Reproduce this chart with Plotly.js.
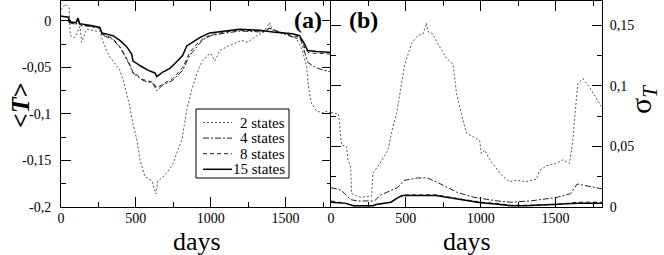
<!DOCTYPE html>
<html>
<head>
<meta charset="utf-8">
<script src="https://cdn.plot.ly/plotly-3.0.1.min.js"></script>
<style>html,body{margin:0;padding:0;background:#fff;}#chart{width:664px;height:255px;}</style>
</head>
<body>
<div id="chart"></div>
<script>
// ---- Panel (a): <T> vs days ----
const daysA2 = [0, 30, 55, 62, 93, 127, 138, 171, 230, 260, 271, 304, 327, 360, 393, 416, 438, 460, 480, 507, 527, 560, 607, 633, 647, 680, 713, 747, 773, 807, 840, 873, 907, 940, 980, 1000, 1027, 1060, 1107, 1147, 1207, 1247, 1307, 1347, 1393, 1413, 1460, 1507, 1573, 1613, 1640, 1653, 1673, 1707, 1750, 1780, 1810];
const tA2 = [0.012, 0.018, 0.014, -0.016, -0.018, -0.006, -0.023, -0.009, -0.011, -0.011, -0.018, -0.032, -0.039, -0.046, -0.053, -0.064, -0.078, -0.092, -0.11, -0.128, -0.149, -0.167, -0.172, -0.186, -0.172, -0.168, -0.162, -0.154, -0.142, -0.128, -0.096, -0.074, -0.057, -0.044, -0.037, -0.035, -0.043, -0.032, -0.028, -0.025, -0.021, -0.023, -0.016, -0.013, -0.002, -0.011, -0.012, -0.014, -0.019, -0.032, -0.05, -0.071, -0.089, -0.097, -0.099, -0.097, -0.1];

const daysA4 = [0, 50, 55, 100, 113, 125, 200, 260, 273, 347, 400, 440, 460, 480, 547, 613, 640, 680, 747, 813, 860, 907, 950, 1000, 1100, 1200, 1350, 1393, 1500, 1600, 1630, 1650, 1700, 1750, 1810];
const tA4 = [0.005, 0.004, -0.002, -0.004, 0.001, -0.005, -0.006, -0.008, -0.015, -0.02, -0.03, -0.042, -0.048, -0.056, -0.064, -0.067, -0.075, -0.069, -0.064, -0.053, -0.037, -0.028, -0.02, -0.016, -0.013, -0.011, -0.012, -0.008, -0.015, -0.02, -0.035, -0.045, -0.05, -0.053, -0.055];
const tA8 = [0.005, 0.004, -0.001, -0.003, 0.002, -0.004, -0.006, -0.008, -0.014, -0.019, -0.029, -0.04, -0.047, -0.055, -0.063, -0.066, -0.072, -0.068, -0.062, -0.05, -0.034, -0.025, -0.019, -0.015, -0.012, -0.01, -0.011, -0.008, -0.014, -0.018, -0.03, -0.034, -0.035, -0.035, -0.036];

const daysA15 = [0, 50, 55, 100, 113, 125, 200, 260, 273, 347, 393, 440, 473, 480, 527, 580, 627, 640, 680, 727, 773, 813, 840, 880, 927, 993, 1107, 1193, 1327, 1413, 1547, 1593, 1627, 1647, 1707, 1810];
const tA15 = [0.005, 0.004, -0.001, -0.002, 0.003, -0.003, -0.005, -0.007, -0.013, -0.016, -0.021, -0.028, -0.036, -0.043, -0.048, -0.053, -0.056, -0.06, -0.055, -0.051, -0.044, -0.037, -0.027, -0.023, -0.018, -0.013, -0.011, -0.009, -0.01, -0.012, -0.014, -0.016, -0.025, -0.032, -0.033, -0.034];

// ---- Panel (b): sigma_T vs days ----
const daysB2 = [0, 50, 71, 104, 113, 131, 138, 200, 271, 280, 327, 380, 413, 438, 471, 493, 538, 582, 615, 638, 647, 680, 713, 771, 815, 838, 871, 904, 949, 993, 1004, 1027, 1060, 1104, 1149, 1193, 1238, 1304, 1371, 1393, 1438, 1504, 1549, 1593, 1615, 1638, 1649, 1682, 1727, 1771, 1805];
const sB2 = [0.078, 0.077, 0.051, 0.05, 0.039, 0.033, 0.011, 0.008, 0.009, 0.028, 0.036, 0.047, 0.066, 0.077, 0.102, 0.118, 0.135, 0.142, 0.143, 0.152, 0.145, 0.143, 0.135, 0.123, 0.118, 0.094, 0.077, 0.061, 0.058, 0.055, 0.044, 0.047, 0.039, 0.032, 0.025, 0.021, 0.022, 0.021, 0.023, 0.03, 0.034, 0.036, 0.039, 0.036, 0.055, 0.088, 0.102, 0.106, 0.099, 0.09, 0.083];

const daysB4 = [0, 67, 133, 180, 290, 333, 444, 489, 578, 644, 733, 844, 956, 1111, 1200, 1333, 1511, 1600, 1644, 1689, 1810];
const sB4 = [0.016, 0.014, 0.006, 0.005, 0.005, 0.010, 0.016, 0.022, 0.024, 0.024, 0.019, 0.012, 0.008, 0.005, 0.004, 0.005, 0.008, 0.011, 0.019, 0.018, 0.015];

const daysB8 = [0, 100, 150, 280, 300, 400, 450, 480, 700, 800, 900, 1000, 1100, 1200, 1300, 1500, 1650, 1810];
const sB8 = [0.005, 0.003, 0.001, 0.001, 0.002, 0.004, 0.008, 0.010, 0.010, 0.008, 0.006, 0.004, 0.003, 0.0015, 0.0015, 0.002, 0.004, 0.004];
const sB15 = [0.004, 0.003, 0.001, 0.001, 0.002, 0.004, 0.008, 0.0095, 0.0095, 0.0075, 0.0055, 0.0035, 0.0025, 0.001, 0.001, 0.002, 0.003, 0.003];

const seriesNames = ['2 states', '4 states', '8 states', '15 states'];
const yTickValsA = [0, -0.05, -0.1, -0.15, -0.2];
const yTickTextA = ['0', '-0,05', '-0,1', '-0,15', '-0,2'];
const yTickValsB = [0, 0.05, 0.1, 0.15];
const yTickTextB = ['0', '0,05', '0,1', '0,15'];
const xTickVals = [0, 500, 1000, 1500];
const xTickText = ['0', '500', '1000', '1500'];

const serif = '"Liberation Serif", serif';
const styles = [
  {color: '#555', width: 1, dash: '2px,2px'},
  {color: '#222', width: 1, dash: '6px,2px,2px,2px'},
  {color: '#222', width: 1, dash: '4px,3px'},
  {color: '#000', width: 1.5, dash: 'solid'}
];

const traces = [
  {x: daysA2, y: tA2, name: seriesNames[0], line: styles[0], xaxis: 'x', yaxis: 'y'},
  {x: daysA4, y: tA4, name: seriesNames[1], line: styles[1], xaxis: 'x', yaxis: 'y'},
  {x: daysA4, y: tA8, name: seriesNames[2], line: styles[2], xaxis: 'x', yaxis: 'y'},
  {x: daysA15, y: tA15, name: seriesNames[3], line: styles[3], xaxis: 'x', yaxis: 'y'},
  {x: daysB2, y: sB2, name: seriesNames[0], line: styles[0], xaxis: 'x2', yaxis: 'y2'},
  {x: daysB4, y: sB4, name: seriesNames[1], line: styles[1], xaxis: 'x2', yaxis: 'y2'},
  {x: daysB8, y: sB8, name: seriesNames[2], line: styles[2], xaxis: 'x2', yaxis: 'y2'},
  {x: daysB8, y: sB15, name: seriesNames[3], line: styles[3], xaxis: 'x2', yaxis: 'y2'}
].map(t => Object.assign({type: 'scatter', mode: 'lines', hoverinfo: 'skip', showlegend: false}, t));

const tickFont = {family: serif, size: 14, color: '#000'};
const commonAxis = {
  showline: true, linecolor: '#000', linewidth: 1, mirror: 'ticks',
  ticks: 'inside', ticklen: 10, tickwidth: 1, tickcolor: '#000',
  showgrid: false, zeroline: false, tickfont: tickFont, tickmode: 'array'
};

// Legend box (drawn as chart furniture inside panel a)
const legBox = {x0: 196, x1: 289, y0: 109, y1: 178, rowH: 15.6, firstRow: 122.5, lineX0: 203, lineX1: 232, textX: 287};
const P = (px) => px / 664;
const Q = (py) => 1 - py / 255;
const shapes = [{type: 'rect', xref: 'paper', yref: 'paper', x0: P(legBox.x0), x1: P(legBox.x1),
  y0: Q(legBox.y0), y1: Q(legBox.y1), line: {color: '#000', width: 1}, fillcolor: '#fff', layer: 'above'}];
const legendAnns = [];
seriesNames.forEach((nm, i) => {
  const yy = legBox.firstRow + i * legBox.rowH;
  shapes.push({type: 'line', xref: 'paper', yref: 'paper', x0: P(legBox.lineX0), x1: P(legBox.lineX1),
    y0: Q(yy), y1: Q(yy), line: {color: styles[i].color, width: styles[i].width, dash: styles[i].dash}, layer: 'above'});
  legendAnns.push({text: nm, xref: 'paper', yref: 'paper', x: P(legBox.textX), y: Q(yy), showarrow: false,
    xanchor: 'right', yanchor: 'middle', font: {family: serif, size: 15, color: '#000'}});
});

const layout = {
  width: 664, height: 255,
  margin: {l: 0, r: 0, t: 0, b: 0},
  paper_bgcolor: '#fff', plot_bgcolor: '#fff',
  showlegend: false,
  font: {family: serif, color: '#000'},
  xaxis: Object.assign({}, commonAxis, {
    domain: [61/664, 332/664], range: [0, 1810], anchor: 'y',
    tickvals: xTickVals, ticktext: xTickText, ticklabelstandoff: -2,
    minor: {ticks: 'inside', ticklen: 5, dtick: 250, tick0: 0, tickcolor: '#000', showgrid: false}
  }),
  yaxis: Object.assign({}, commonAxis, {
    domain: [48/255, 254/255], range: [-0.2, 0.0213], anchor: 'x',
    tickvals: yTickValsA, ticktext: yTickTextA, ticklabelstandoff: 6,
    minor: {ticks: 'inside', ticklen: 5, dtick: 0.025, tick0: 0, tickcolor: '#000', showgrid: false}
  }),
  xaxis2: Object.assign({}, commonAxis, {
    domain: [331/664, 602/664], range: [0, 1810], anchor: 'y2',
    tickvals: xTickVals, ticktext: xTickText, ticklabelstandoff: -2,
    minor: {ticks: 'inside', ticklen: 5, dtick: 250, tick0: 0, tickcolor: '#000', showgrid: false}
  }),
  yaxis2: Object.assign({}, commonAxis, {
    domain: [48/255, 254/255], range: [0, 0.1702], anchor: 'x2', side: 'right',
    tickvals: yTickValsB, ticktext: yTickTextB, ticklabelstandoff: 4,
    minor: {ticks: 'inside', ticklen: 5, dtick: 0.025, tick0: 0, tickcolor: '#000', showgrid: false}
  }),
  shapes: shapes,
  annotations: legendAnns.concat([
    {text: 'days', xref: 'paper', yref: 'paper', x: P(197), y: Q(241.5), showarrow: false,
     font: {family: serif, size: 26, color: '#000'}, xanchor: 'center', yanchor: 'middle'},
    {text: 'days', xref: 'paper', yref: 'paper', x: P(467), y: Q(241.5), showarrow: false,
     font: {family: serif, size: 26, color: '#000'}, xanchor: 'center', yanchor: 'middle'},
    {text: '<b>&lt;<i>T</i>&gt;</b>', xref: 'paper', yref: 'paper', x: P(20), y: Q(105), showarrow: false,
     textangle: -90, font: {family: serif, size: 26, color: '#000'}, xanchor: 'center', yanchor: 'middle'},
    {text: 'σ<sub><i>T</i></sub>', xref: 'paper', yref: 'paper', x: P(643), y: Q(100), showarrow: false,
     textangle: -90, font: {family: serif, size: 30, color: '#000'}, xanchor: 'center', yanchor: 'middle'},
    {text: '<b>(a)</b>', xref: 'paper', yref: 'paper', x: P(308), y: Q(20), showarrow: false,
     font: {family: serif, size: 24, color: '#000'}, xanchor: 'center', yanchor: 'middle'},
    {text: '<b>(b)</b>', xref: 'paper', yref: 'paper', x: P(363), y: Q(20), showarrow: false,
     font: {family: serif, size: 24, color: '#000'}, xanchor: 'center', yanchor: 'middle'}
  ])
};

Plotly.newPlot('chart', traces, layout, {staticPlot: true, displayModeBar: false});
</script>
</body>
</html>
